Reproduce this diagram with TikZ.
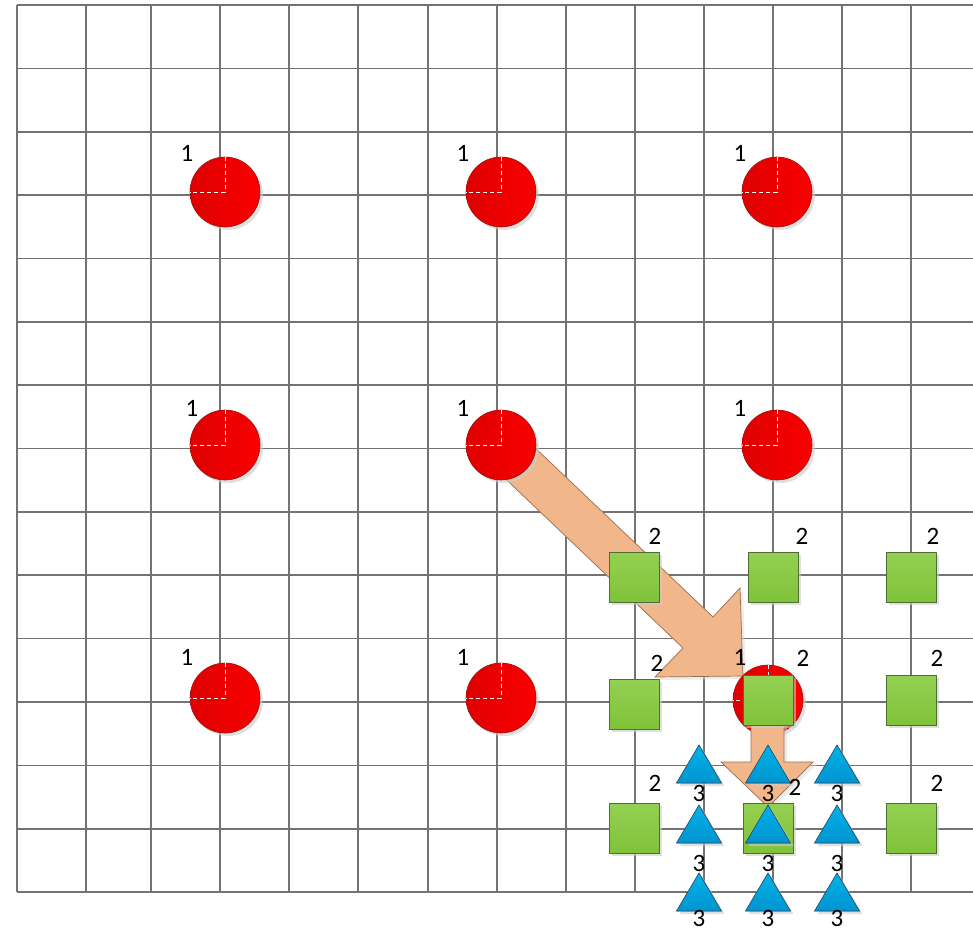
\documentclass[tikz,border=0pt]{standalone}
\usepackage{fontspec}
\setmainfont{Carlito}
\usetikzlibrary{shadows}
\definecolor{gridc}{RGB}{115,115,115}
\definecolor{redA}{RGB}{222,0,0}
\definecolor{redB}{RGB}{250,0,0}
\definecolor{redE}{RGB}{150,20,20}
\definecolor{grnA}{RGB}{148,208,82}
\definecolor{grnB}{RGB}{128,194,58}
\definecolor{grnE}{RGB}{80,110,50}
\definecolor{bluA}{RGB}{0,178,230}
\definecolor{bluB}{RGB}{0,148,208}
\definecolor{bluE}{RGB}{40,80,110}
\definecolor{arrF}{RGB}{241,183,138}
\definecolor{arrE}{RGB}{150,110,80}
\tikzset{
  shad/.style={drop shadow={shadow xshift=3pt,shadow yshift=-3pt,fill=gray!40,opacity=0.6}},
  redball/.style={circle,minimum size=70pt,inner sep=0pt,draw=redE,line width=0.6pt,left color=redA,right color=redB,shad},
  grnsq/.style={rectangle,minimum size=50pt,inner sep=0pt,draw=grnE,line width=0.8pt,top color=grnA,bottom color=grnB,shad},
  blutri/.style={draw=bluE,line width=0.6pt,top color=bluA,bottom color=bluB,shad},
  bigarrow/.style={draw=arrE,line width=0.7pt,fill=arrF},
  lbl/.style={font=\fontsize{25}{25}\selectfont,inner sep=0pt,text=black},
  gridline/.style={draw=gridc,line width=1.6pt}
}
\begin{document}
\begin{tikzpicture}[x=1pt,y=-1pt]
\useasboundingbox (0,0) rectangle (973,932);
% grid
\foreach \gx in {17,86,151,220,289,358,428,497,566,635,704,773,842,911}
  \draw[gridline] (\gx,5) -- (\gx,892);
\foreach \gy in {5,68.4,131.7,195.1,258.4,321.8,385.2,448.5,511.9,575.2,638.6,702,765.3,828.7,892}
  \draw[gridline] (17,\gy) -- (973,\gy);
% big arrow
\draw[bigarrow,drop shadow={shadow xshift=3pt,shadow yshift=-3pt,fill=gray!30,opacity=0.5}]
  (515.8,429.5) -- (713,617) -- (740,588) -- (743,676) -- (655,677) -- (683,648) -- (486.2,460.5) -- cycle;
% circles
\foreach \nm/\cx/\cy in {c11/225/192,c12/501/192,c13/777/192,c21/225/445,c22/501/445,c23/777/445,c31/225/698,c32/501/698,c33/768/700}{
  \node[redball] (\nm) at (\cx,\cy) {};
  \draw[white,dash pattern=on 4pt off 3pt,line width=0.8pt] (\nm.north) -- (\nm.center) -- (\nm.west);
}
% small arrow
\draw[bigarrow,drop shadow={shadow xshift=3pt,shadow yshift=-3pt,fill=gray!30,opacity=0.5}]
  (751,700) -- (784,700) -- (784,762) -- (813,762) -- (768,807) -- (721,762) -- (751,762) -- cycle;
% squares
\foreach \nm/\sx/\sy in {s11/634/577,s12/773/577,s13/911/577,s21/634/704,s22/768/700,s23/911/700,s31/634/828,s32/768/828,s33/911/828}
  \node[grnsq] (\nm) at (\sx,\sy) {};
% triangles
\foreach \nm/\tx/\ty in {t11/699/745,t12/768/745,t13/837/745,t21/699/805,t22/768/805,t23/837/805,t31/699/873,t32/768/873,t33/837/873}
  \fill[blutri] (\tx,\ty) -- (\tx+22.5,\ty+38) -- (\tx-22.5,\ty+38) -- cycle;
% labels 1
\foreach \nm/\lx/\ly in {l11/187/153,l12/463/153,l13/740/153,l21/192/408,l22/463/408,l23/740/408,l31/187/657,l32/463/657,l33/740/657}
  \node[lbl] (\nm) at (\lx,\ly) {1};
% labels 2
\foreach \nm/\lx/\ly in {m11/655/536,m12/802/536,m13/933/536,m21/657/663,m22/803/658,m23/937/658,m31/655/783,m32/795/787,m33/937/783}
  \node[lbl] (\nm) at (\lx,\ly) {2};
% labels 3
\foreach \nm/\lx/\ly in {n11/699/793,n12/768/793,n13/837/793,n21/699/863,n22/768/863,n23/837/863,n31/699/918,n32/768/918,n33/837/918}
  \node[lbl] (\nm) at (\lx,\ly) {3};
\end{tikzpicture}
\end{document}
